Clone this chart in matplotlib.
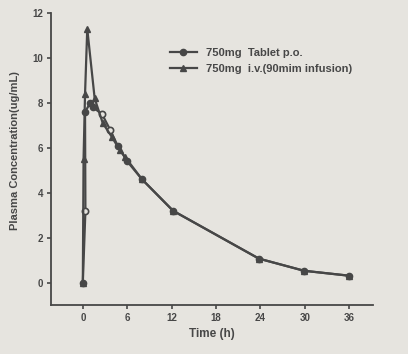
import matplotlib
matplotlib.use('Agg')
import matplotlib.pyplot as plt

# Data (time in h, concentration in ug/mL)
tab_time = [0, 0.35, 0.3, 1.0, 1.4, 2.6, 3.7, 4.7, 6.0, 8.0, 12.2, 23.8, 29.9, 36.0]
tab_conc = [0, 3.2, 7.6, 8.0, 7.8, 7.5, 6.8, 6.1, 5.4, 4.6, 3.2, 1.07, 0.53, 0.31]
iv_time = [0, 0.1, 0.3, 0.6, 1.6, 2.7, 3.9, 5.0, 5.7, 8.0, 12.2, 23.8, 29.9, 36.0]
iv_conc = [0, 5.5, 8.4, 11.3, 8.2, 7.1, 6.5, 5.9, 5.6, 4.6, 3.2, 1.07, 0.53, 0.31]

labels = ['750mg  Tablet p.o.', '750mg  i.v.(90mim infusion)']
xticks = [0, 6, 12, 18, 24, 30, 36]
yticks = [0, 2, 4, 6, 8, 10, 12]

bg = '#e6e4df'
ink = '#474747'

plt.rcParams['font.family'] = ['Liberation Sans', 'DejaVu Sans']
plt.rcParams['font.weight'] = 'bold'

fig = plt.figure(figsize=(4.08, 3.54), dpi=100, facecolor=bg)
ax = fig.add_axes([0.125, 0.138, 0.789, 0.825], facecolor=bg)

# open markers on a few tablet points, filled on the rest
open_pts = [1, 5, 6]
filled_pts = [i for i in range(len(tab_time)) if i not in open_pts]
ax.plot(tab_time, tab_conc, color=ink, lw=1.6, marker='o', ms=4.5,
        mfc=ink, mec=ink, markevery=filled_pts, label=labels[0])
ax.plot(tab_time, tab_conc, color=ink, lw=0, marker='o', ms=4.5,
        mfc=bg, mec=ink, mew=1.2, markevery=open_pts)
ax.plot(iv_time, iv_conc, color=ink, lw=1.6, marker='^', ms=4,
        mfc=ink, mec=ink, label=labels[1])

ax.set_xlim(-4.3, 39.2)
ax.set_ylim(-1, 12)
ax.set_xticks(xticks)
ax.set_yticks(yticks)

for side in ['top', 'right']:
    ax.spines[side].set_visible(False)
for side in ['left', 'bottom']:
    ax.spines[side].set_color(ink)
    ax.spines[side].set_linewidth(1.3)

ax.tick_params(colors=ink, labelsize=7, length=3, width=1.2, pad=2.5)
ax.set_xlabel('Time (h)', color=ink, fontsize=8.5, fontweight='bold', labelpad=4)
ax.set_ylabel('Plasma Concentration(ug/mL)', color=ink, fontsize=8,
              fontweight='bold')
ax.yaxis.set_label_coords(-0.096, 0.53)

leg = ax.legend(loc='upper left', bbox_to_anchor=(0.37, 0.88), frameon=False,
                fontsize=8, handlelength=2.4, labelspacing=0.5, handletextpad=0.8,
                borderaxespad=0, borderpad=0)
for t in leg.get_texts():
    t.set_color(ink)

fig.savefig('out.png', dpi=100, facecolor=bg)
